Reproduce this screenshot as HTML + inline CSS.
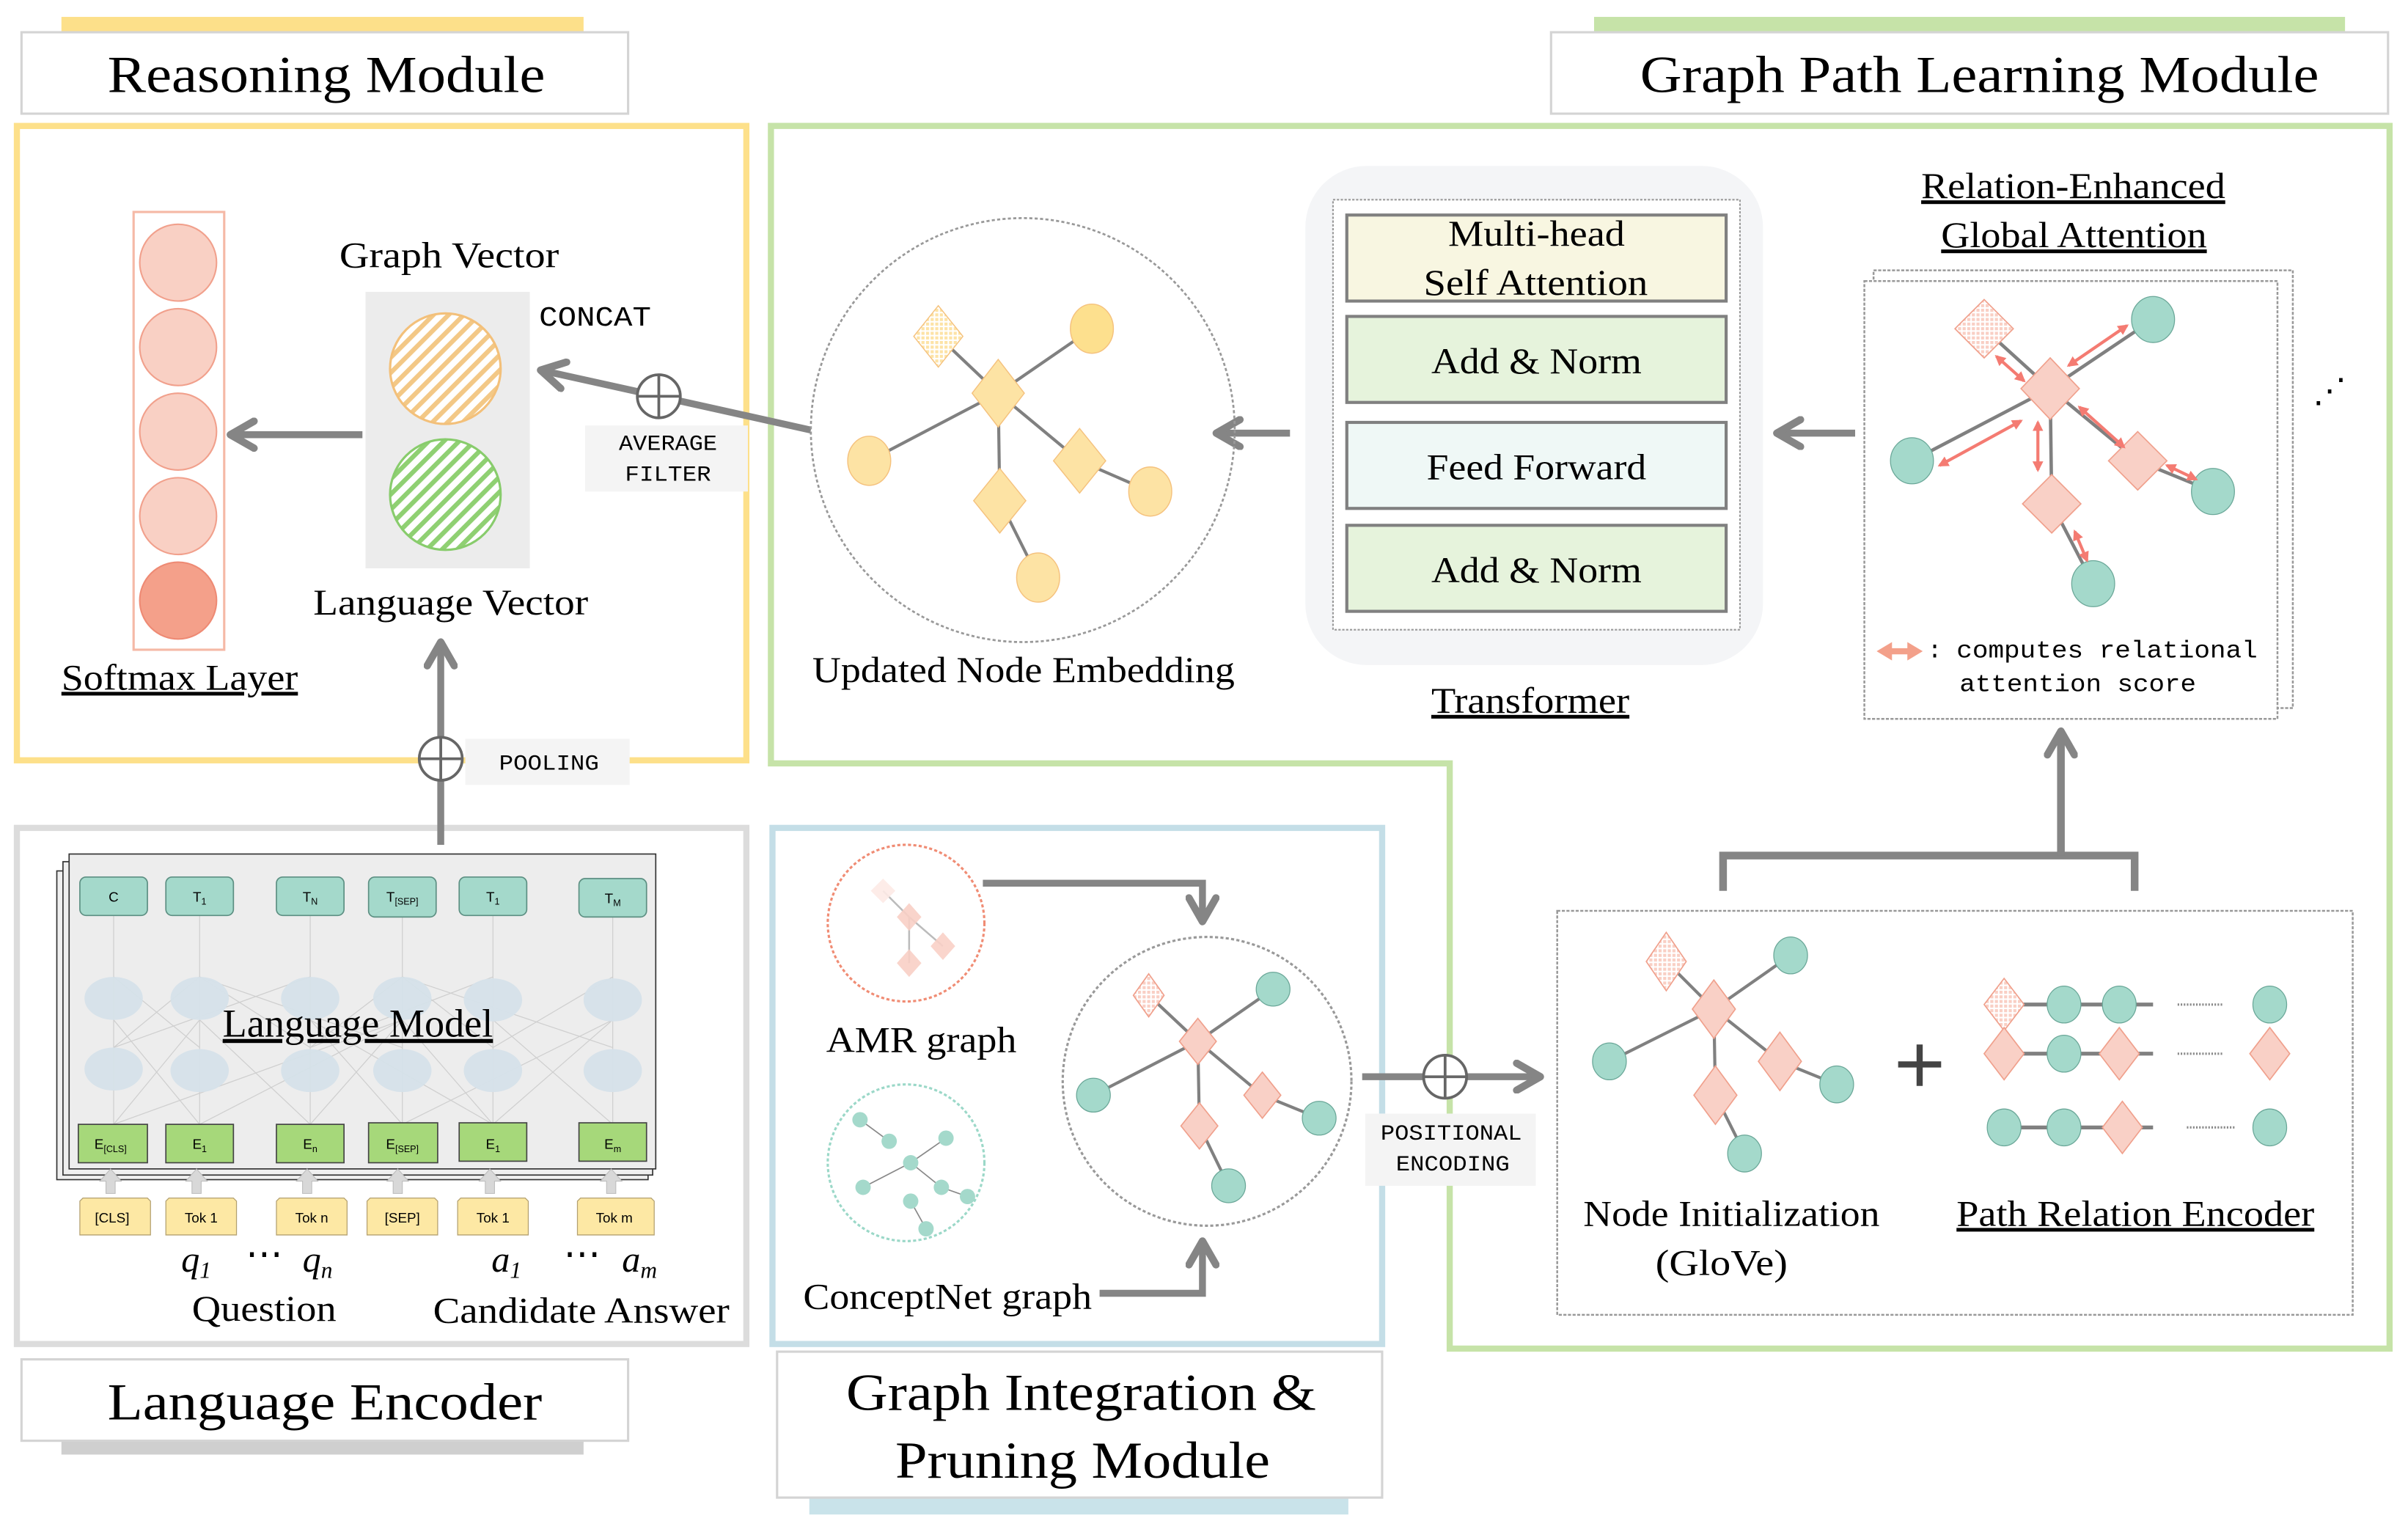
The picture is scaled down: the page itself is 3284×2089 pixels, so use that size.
<!DOCTYPE html>
<html><head><meta charset="utf-8"><style>
html,body{margin:0;padding:0;background:#fff}
svg{display:block}
.s{font-family:"Liberation Serif",serif;fill:#000}
.m{font-family:"Liberation Mono",monospace;fill:#000}
.sa{font-family:"Liberation Sans",sans-serif;fill:#000}
</style></head><body>
<svg width="3284" height="2089" viewBox="0 0 1568 997.4" preserveAspectRatio="none" xmlns="http://www.w3.org/2000/svg">
<defs>
<marker id="ah" viewBox="0 0 10 10" markerWidth="22" markerHeight="22" markerUnits="userSpaceOnUse" refX="8.5" refY="5" orient="auto">
<path d="M1.5,1 L8.5,5 L1.5,9" fill="none" stroke="#858585" stroke-width="2.2" stroke-linecap="round" stroke-linejoin="round"/></marker>
<marker id="ra" viewBox="0 0 10 10" markerWidth="7" markerHeight="7" markerUnits="userSpaceOnUse" refX="8" refY="5" orient="auto-start-reverse">
<path d="M0,0 L10,5 L0,10 z" fill="#f47b72"/></marker>
<pattern id="hy" width="7" height="7" patternUnits="userSpaceOnUse" patternTransform="rotate(45)"><rect width="7" height="7" fill="#fff"/><rect width="3" height="7" fill="#f3c886"/></pattern>
<pattern id="hg" width="7" height="7" patternUnits="userSpaceOnUse" patternTransform="rotate(45)"><rect width="7" height="7" fill="#fff"/><rect width="3" height="7" fill="#8fd072"/></pattern>
<pattern id="cp" width="3" height="3" patternUnits="userSpaceOnUse"><rect width="3" height="3" fill="#fff"/><rect width="2" height="2" fill="#f9cfc4"/></pattern>
<pattern id="cy" width="3" height="3" patternUnits="userSpaceOnUse"><rect width="3" height="3" fill="#fff"/><rect width="2" height="2" fill="#fde3a6"/></pattern>
</defs>

<rect x="40" y="11" width="340" height="12" fill="#fde08a"/>
<rect x="14" y="21" width="395" height="53" fill="#fff" stroke="#d4d4d4" stroke-width="1.5"/>
<text x="70" y="60" class="s" font-size="34" textLength="285" lengthAdjust="spacingAndGlyphs">Reasoning Module</text>

<rect x="1038" y="11" width="489" height="12" fill="#c6e3a8"/>
<rect x="1010" y="21" width="545" height="53" fill="#fff" stroke="#d4d4d4" stroke-width="1.5"/>
<text x="1068" y="60" class="s" font-size="34" textLength="442" lengthAdjust="spacingAndGlyphs">Graph Path Learning Module</text>

<rect x="40" y="936" width="340" height="11" fill="#cfcfcf"/>
<rect x="14" y="885" width="395" height="53" fill="#fff" stroke="#d4d4d4" stroke-width="1.5"/>
<text x="70" y="924" class="s" font-size="34" textLength="283" lengthAdjust="spacingAndGlyphs">Language Encoder</text>

<rect x="527" y="973" width="351" height="13" fill="#c9e3ea"/>
<rect x="506" y="880" width="394" height="95" fill="#fff" stroke="#d4d4d4" stroke-width="1.5"/>
<text x="551" y="918" class="s" font-size="34" textLength="306" lengthAdjust="spacingAndGlyphs">Graph Integration &amp;</text>
<text x="583" y="962" class="s" font-size="34" textLength="244" lengthAdjust="spacingAndGlyphs">Pruning Module</text>

<rect x="11" y="82" width="475" height="413" fill="none" stroke="#fde08a" stroke-width="4"/>
<path d="M502,82 H1556 V878 H944 V497 H502 Z" fill="none" stroke="#c6e3a8" stroke-width="4"/>
<rect x="11" y="539" width="475" height="336" fill="none" stroke="#dcdcdc" stroke-width="4"/>
<rect x="503" y="539" width="397" height="336" fill="none" stroke="#c4dee7" stroke-width="4"/>

<rect x="87" y="138" width="59" height="285" fill="#fff" stroke="#f5b9a6" stroke-width="1.5"/>
<circle cx="116" cy="171" r="25" fill="#f9d0c4" stroke="#f1a08c"/>
<circle cx="116" cy="226" r="25" fill="#f9d0c4" stroke="#f1a08c"/>
<circle cx="116" cy="281" r="25" fill="#f9d0c4" stroke="#f1a08c"/>
<circle cx="116" cy="336" r="25" fill="#f9d0c4" stroke="#f1a08c"/>
<circle cx="116" cy="391" r="25" fill="#f4a08a" stroke="#ee8a74"/>
<line x1="236" y1="283" x2="150" y2="283" stroke="#858585" stroke-width="4.5" marker-end="url(#ah)"/>
<text x="40" y="449" class="s" font-size="24" text-decoration="underline" textLength="154" lengthAdjust="spacingAndGlyphs">Softmax Layer</text>

<rect x="238" y="190" width="107" height="180" fill="#ececec"/>
<circle cx="290" cy="240" r="36" fill="url(#hy)" stroke="#f3c07a" stroke-width="1.5"/>
<circle cx="290" cy="322" r="36" fill="url(#hg)" stroke="#88cc6c" stroke-width="1.5"/>
<text x="221" y="174" class="s" font-size="24" textLength="143" lengthAdjust="spacingAndGlyphs">Graph Vector</text>
<text x="204" y="400" class="s" font-size="24" textLength="179" lengthAdjust="spacingAndGlyphs">Language Vector</text>
<text x="351" y="212" class="m" font-size="18" textLength="73" lengthAdjust="spacingAndGlyphs">CONCAT</text>

<line x1="528" y1="280" x2="429" y2="258" stroke="#858585" stroke-width="4.5"/>
<line x1="429" y1="258" x2="352" y2="241" stroke="#858585" stroke-width="4.5" marker-end="url(#ah)"/>
<circle cx="429" cy="258" r="14" fill="#fff" stroke="#666" stroke-width="1.8"/>
<path d="M415,258 H443 M429,244 V272" stroke="#666" stroke-width="1.8" fill="none"/>
<rect x="381" y="277" width="106" height="43" fill="#f4f4f4"/>
<text x="403" y="293" class="m" font-size="14" textLength="64" lengthAdjust="spacingAndGlyphs">AVERAGE</text>
<text x="407" y="313" class="m" font-size="14" textLength="56" lengthAdjust="spacingAndGlyphs">FILTER</text>

<line x1="287" y1="550" x2="287" y2="418" stroke="#858585" stroke-width="4.5" marker-end="url(#ah)"/>
<rect x="303" y="481" width="107" height="30" fill="#f4f4f4"/>
<circle cx="287" cy="494" r="14" fill="#fff" stroke="#666" stroke-width="1.8"/>
<path d="M273,494 H301 M287,480 V508" stroke="#666" stroke-width="1.8" fill="none"/>
<text x="325" y="501" class="m" font-size="14" textLength="65" lengthAdjust="spacingAndGlyphs">POOLING</text>

<rect x="37" y="567" width="385" height="201" fill="#efefef" stroke="#333" stroke-width="0.8"/>
<rect x="41" y="561" width="384" height="204" fill="#efefef" stroke="#333" stroke-width="0.8"/>
<rect x="45" y="556" width="382" height="205" fill="#ededed" stroke="#333" stroke-width="0.8"/>
<g stroke="#cfcfcf" stroke-width="0.6" fill="none">
<path d="M74,732 L130,664 L202,732 L262,664 L321,732 L399,664 M130,732 L74,664 M130,732 L262,664 M202,732 L130,664 M262,732 L202,664 M262,732 L399,664 M321,732 L202,664 M399,732 L321,664 M74,732 L262,664"/>
<path d="M74,682 L130,636 L202,682 L262,636 L321,682 L399,636 M130,682 L74,636 M202,682 L321,636 M262,682 L130,636 M321,682 L262,636 M399,682 L262,636 M74,682 L202,636"/>
<path d="M74,596 V732 M130,596 V732 M202,596 V732 M262,596 V732 M321,596 V732 M399,596 V732"/>
</g>
<g fill="#d6e2ea" opacity="0.95">
<ellipse cx="74" cy="650" rx="19" ry="14"/><ellipse cx="130" cy="650" rx="19" ry="14"/><ellipse cx="202" cy="650" rx="19" ry="14"/><ellipse cx="262" cy="650" rx="19" ry="14"/><ellipse cx="321" cy="651" rx="19" ry="14"/><ellipse cx="399" cy="651" rx="19" ry="14"/>
<ellipse cx="74" cy="696" rx="19" ry="14"/><ellipse cx="130" cy="697" rx="19" ry="14"/><ellipse cx="202" cy="697" rx="19" ry="14"/><ellipse cx="262" cy="697" rx="19" ry="14"/><ellipse cx="321" cy="697" rx="19" ry="14"/><ellipse cx="399" cy="697" rx="19" ry="14"/>
</g>
<g fill="#a4d9cb" stroke="#5c8f82" stroke-width="0.8">
<rect x="52" y="571" width="44" height="25" rx="4"/><rect x="108" y="571" width="44" height="25" rx="4"/><rect x="180" y="571" width="44" height="25" rx="4"/><rect x="240" y="571" width="44" height="26" rx="4"/><rect x="299" y="571" width="44" height="25" rx="4"/><rect x="377" y="572" width="44" height="25" rx="4"/>
</g>
<g class="sa" font-size="9" text-anchor="middle">
<text x="74" y="587">C</text><text x="130" y="587">T<tspan font-size="6" dy="2">1</tspan></text><text x="202" y="587">T<tspan font-size="6" dy="2">N</tspan></text><text x="262" y="587">T<tspan font-size="6" dy="2">[SEP]</tspan></text><text x="321" y="587">T<tspan font-size="6" dy="2">1</tspan></text><text x="399" y="588">T<tspan font-size="6" dy="2">M</tspan></text>
</g>
<g fill="#a6d87a" stroke="#444" stroke-width="0.8">
<rect x="51" y="732" width="45" height="25"/><rect x="108" y="732" width="44" height="25"/><rect x="180" y="732" width="44" height="25"/><rect x="240" y="731" width="45" height="26"/><rect x="299" y="731" width="44" height="25"/><rect x="377" y="731" width="44" height="25"/>
</g>
<g class="sa" font-size="9" text-anchor="middle">
<text x="72" y="748">E<tspan font-size="6" dy="2">[CLS]</tspan></text><text x="130" y="748">E<tspan font-size="6" dy="2">1</tspan></text><text x="202" y="748">E<tspan font-size="6" dy="2">n</tspan></text><text x="262" y="748">E<tspan font-size="6" dy="2">[SEP]</tspan></text><text x="321" y="748">E<tspan font-size="6" dy="2">1</tspan></text><text x="399" y="748">E<tspan font-size="6" dy="2">m</tspan></text>
</g>
<g fill="#d8d8d8" stroke="#bbb" stroke-width="0.5">
<path d="M69,777 V769 H65 L72,761 L79,769 H75 V777 Z"/><path d="M125,777 V769 H121 L128,761 L135,769 H131 V777 Z"/><path d="M197,777 V769 H193 L200,761 L207,769 H203 V777 Z"/><path d="M256,777 V769 H252 L259,761 L266,769 H262 V777 Z"/><path d="M316,777 V769 H312 L319,761 L326,769 H322 V777 Z"/><path d="M395,777 V769 H391 L398,761 L405,769 H401 V777 Z"/>
</g>
<g fill="#fde8a4" stroke="#b3a070" stroke-width="0.6">
<path d="M52,782 L54,780 H96 L98,782 V804 H52 Z"/><path d="M108,782 L110,780 H152 L154,782 V804 H108 Z"/><path d="M180,782 L182,780 H224 L226,782 V804 H180 Z"/><path d="M239,782 L241,780 H283 L285,782 V804 H239 Z"/><path d="M298,782 L300,780 H342 L344,782 V804 H298 Z"/><path d="M376,782 L378,780 H424 L426,782 V804 H376 Z"/>
</g>
<g class="sa" font-size="9" text-anchor="middle">
<text x="73" y="796">[CLS]</text><text x="131" y="796">Tok 1</text><text x="203" y="796">Tok n</text><text x="262" y="796">[SEP]</text><text x="321" y="796">Tok 1</text><text x="400" y="796">Tok m</text>
</g>
<text x="145" y="675" class="s" font-size="26" text-decoration="underline" textLength="176" lengthAdjust="spacingAndGlyphs">Language Model</text>
<g class="s" font-size="24" font-style="italic">
<text x="118" y="828">q<tspan font-size="15" dy="4">1</tspan></text><text x="160" y="824" font-style="normal">⋯</text><text x="197" y="828">q<tspan font-size="15" dy="4">n</tspan></text>
<text x="320" y="828">a<tspan font-size="15" dy="4">1</tspan></text><text x="367" y="824" font-style="normal">⋯</text><text x="405" y="828">a<tspan font-size="15" dy="4">m</tspan></text>
</g>
<text x="125" y="860" class="s" font-size="24" textLength="94" lengthAdjust="spacingAndGlyphs">Question</text>
<text x="282" y="861" class="s" font-size="24" textLength="193" lengthAdjust="spacingAndGlyphs">Candidate Answer</text>

<circle cx="590" cy="601" r="51" fill="none" stroke="#f08c74" stroke-width="1.5" stroke-dasharray="2 1.5"/>
<g stroke="#bbb" stroke-width="1.2" fill="none"><path d="M575,580 L592,597 L614,616 M592,597 V627"/></g>
<g fill="#f9d0c6" opacity="0.9">
<polygon points="575,572 583,580 575,588 567,580" fill="#fdeae6"/>
<polygon points="592,588 600,597 592,606 584,597"/>
<polygon points="614,607 622,616 614,625 606,616"/>
<polygon points="592,618 600,627 592,636 584,627"/>
</g>
<text x="538" y="685" class="s" font-size="24" textLength="124" lengthAdjust="spacingAndGlyphs">AMR graph</text>

<circle cx="590" cy="757" r="51" fill="none" stroke="#9bd8c8" stroke-width="1.5" stroke-dasharray="2 1.5"/>
<g stroke="#888" stroke-width="0.8" fill="none"><path d="M560,729 L579,743 M593,757 L616,741 M593,757 L562,773 M593,757 L613,773 L630,779 M593,782 L603,800"/></g>
<g fill="#a4d9cb">
<ellipse cx="560" cy="729" rx="5" ry="5"/><ellipse cx="579" cy="743" rx="5" ry="5"/><ellipse cx="616" cy="741" rx="5" ry="5"/><ellipse cx="593" cy="757" rx="5" ry="5"/><ellipse cx="562" cy="773" rx="5" ry="5"/><ellipse cx="613" cy="773" rx="5" ry="5"/><ellipse cx="630" cy="779" rx="5" ry="5"/><ellipse cx="593" cy="782" rx="5" ry="5"/><ellipse cx="603" cy="800" rx="5" ry="5"/>
</g>
<text x="523" y="852" class="s" font-size="24" textLength="188" lengthAdjust="spacingAndGlyphs">ConceptNet graph</text>

<path d="M640,575 H783 V600" fill="none" stroke="#858585" stroke-width="4.5" marker-end="url(#ah)"/>
<path d="M716,842 H783 V808" fill="none" stroke="#858585" stroke-width="4.5" marker-end="url(#ah)"/>
<circle cx="786" cy="704" r="94" fill="none" stroke="#999" stroke-width="1.5" stroke-dasharray="2 1.5"/>
<g stroke="#808080" stroke-width="2" fill="none"><path d="M748,648 L780,678 L829,644 M780,678 L712,713 M780,678 L822,713 L859,728 M780,678 L781,733 L800,772"/></g>
<g fill="#a4d9cb" stroke="#6aa798" stroke-width="0.6">
<ellipse cx="829" cy="644" rx="11" ry="11"/><ellipse cx="712" cy="713" rx="11" ry="11"/><ellipse cx="859" cy="728" rx="11" ry="11"/><ellipse cx="800" cy="772" rx="11" ry="11"/>
</g>
<g stroke="#f0a08c" stroke-width="0.8">
<polygon points="748,634 758,648 748,662 738,648" fill="url(#cp)"/>
<polygon points="780,663 792,678 780,693 768,678" fill="#f9d0c6"/>
<polygon points="822,698 834,713 822,728 810,713" fill="#f9d0c6"/>
<polygon points="781,718 793,733 781,748 769,733" fill="#f9d0c6"/>
</g>

<line x1="887" y1="701" x2="1003" y2="701" stroke="#858585" stroke-width="4.5" marker-end="url(#ah)"/>
<circle cx="941" cy="701" r="14" fill="#fff" stroke="#666" stroke-width="1.8"/>
<path d="M927,701 H955 M941,687 V715" stroke="#666" stroke-width="1.8" fill="none"/>
<rect x="889" y="725" width="111" height="47" fill="#f4f4f4"/>
<text x="899" y="742" class="m" font-size="14" textLength="92" lengthAdjust="spacingAndGlyphs">POSITIONAL</text>
<text x="909" y="762" class="m" font-size="14" textLength="74" lengthAdjust="spacingAndGlyphs">ENCODING</text>

<rect x="1014" y="593" width="518" height="263" fill="none" stroke="#999" stroke-width="1.2" stroke-dasharray="2 1"/>
<g stroke="#808080" stroke-width="2" fill="none"><path d="M1085,626 L1116,657 L1166,622 M1116,657 L1048,691 M1116,657 L1159,691 L1196,706 M1116,657 L1117,713 L1136,751"/></g>
<g fill="#a4d9cb" stroke="#6aa798" stroke-width="0.6">
<ellipse cx="1166" cy="622" rx="11" ry="12"/><ellipse cx="1048" cy="691" rx="11" ry="12"/><ellipse cx="1196" cy="706" rx="11" ry="12"/><ellipse cx="1136" cy="751" rx="11" ry="12"/>
</g>
<g stroke="#f0a08c" stroke-width="0.8">
<polygon points="1085,607 1098,626 1085,645 1072,626" fill="url(#cp)"/>
<polygon points="1116,638 1130,657 1116,676 1102,657" fill="#f9d0c6"/>
<polygon points="1159,672 1173,691 1159,710 1145,691" fill="#f9d0c6"/>
<polygon points="1117,694 1131,713 1117,732 1103,713" fill="#f9d0c6"/>
</g>
<path d="M1236,693 H1264 M1250,680 V707" stroke="#444" stroke-width="4" fill="none"/>
<g stroke="#808080" stroke-width="2.5" fill="none"><path d="M1305,654 H1402 M1305,686 H1402 M1305,734 H1402"/></g>
<g stroke="#888" stroke-width="1.5" stroke-dasharray="1 1" fill="none"><path d="M1418,654 H1447 M1418,686 H1447 M1424,734 H1455"/></g>
<g fill="#a4d9cb" stroke="#6aa798" stroke-width="0.6">
<ellipse cx="1344" cy="654" rx="11" ry="12"/><ellipse cx="1380" cy="654" rx="11" ry="12"/><ellipse cx="1478" cy="654" rx="11" ry="12"/>
<ellipse cx="1344" cy="686" rx="11" ry="12"/>
<ellipse cx="1305" cy="734" rx="11" ry="12"/><ellipse cx="1344" cy="734" rx="11" ry="12"/><ellipse cx="1478" cy="734" rx="11" ry="12"/>
</g>
<g stroke="#f0a08c" stroke-width="0.8" fill="#f9d0c6">
<polygon points="1305,637 1318,654 1305,671 1292,654" fill="url(#cp)"/>
<polygon points="1305,669 1318,686 1305,703 1292,686"/>
<polygon points="1380,669 1393,686 1380,703 1367,686"/>
<polygon points="1478,669 1491,686 1478,703 1465,686"/>
<polygon points="1382,717 1395,734 1382,751 1369,734"/>
</g>
<text x="1031" y="798" class="s" font-size="24" textLength="193" lengthAdjust="spacingAndGlyphs">Node Initialization</text>
<text x="1078" y="830" class="s" font-size="24" textLength="86" lengthAdjust="spacingAndGlyphs">(GloVe)</text>
<text x="1274" y="798" class="s" font-size="24" text-decoration="underline" textLength="233" lengthAdjust="spacingAndGlyphs">Path Relation Encoder</text>

<path d="M1122,580 V557 H1390 V580" fill="none" stroke="#858585" stroke-width="5"/>
<line x1="1342" y1="557" x2="1342" y2="476" stroke="#858585" stroke-width="5" marker-end="url(#ah)"/>

<text x="1251" y="129" class="s" font-size="24" text-decoration="underline" textLength="198" lengthAdjust="spacingAndGlyphs">Relation-Enhanced</text>
<text x="1264" y="161" class="s" font-size="24" text-decoration="underline" textLength="173" lengthAdjust="spacingAndGlyphs">Global Attention</text>
<path d="M1220,182 V176 H1493 V461 H1483" fill="none" stroke="#999" stroke-width="1.2" stroke-dasharray="2 1"/>
<rect x="1214" y="183" width="269" height="285" fill="#fff" stroke="#999" stroke-width="1.2" stroke-dasharray="2 1"/>
<g stroke="#808080" stroke-width="2.2" fill="none"><path d="M1292,214 L1335,253 L1402,208 M1335,253 L1245,300 M1335,253 L1392,300 L1441,320 M1335,253 L1336,328 L1363,380"/></g>
<g fill="#a4d9cb" stroke="#6aa798" stroke-width="0.6">
<ellipse cx="1402" cy="208" rx="14" ry="15"/><ellipse cx="1245" cy="300" rx="14" ry="15"/><ellipse cx="1441" cy="320" rx="14" ry="15"/><ellipse cx="1363" cy="380" rx="14" ry="15"/>
</g>
<g stroke="#f0a08c" stroke-width="0.8" fill="#f9d0c6">
<polygon points="1292,195 1311,214 1292,233 1273,214" fill="url(#cp)"/>
<polygon points="1335,233 1354,253 1335,273 1316,253"/>
<polygon points="1392,281 1411,300 1392,319 1373,300"/>
<polygon points="1336,309 1355,328 1336,347 1317,328"/>
</g>
<g stroke="#f47b72" stroke-width="2" fill="none">
<line x1="1300" y1="232" x2="1318" y2="248" marker-start="url(#ra)" marker-end="url(#ra)"/>
<line x1="1347" y1="238" x2="1385" y2="212" marker-start="url(#ra)" marker-end="url(#ra)"/>
<line x1="1316" y1="274" x2="1263" y2="303" marker-start="url(#ra)" marker-end="url(#ra)"/>
<line x1="1354" y1="265" x2="1383" y2="291" marker-start="url(#ra)" marker-end="url(#ra)"/>
<line x1="1327" y1="275" x2="1327" y2="306" marker-start="url(#ra)" marker-end="url(#ra)"/>
<line x1="1411" y1="303" x2="1430" y2="312" marker-start="url(#ra)" marker-end="url(#ra)"/>
<line x1="1351" y1="346" x2="1359" y2="365" marker-start="url(#ra)" marker-end="url(#ra)"/>
</g>
<text x="1506" y="262" class="s" font-size="22">⋰</text>
<path d="M1222,424 L1232,418 V422 H1242 V418 L1252,424 L1242,430 V426 H1232 V430 Z" fill="#f3a08a"/>
<text x="1255" y="428" class="m" font-size="16">:</text>
<text x="1274" y="428" class="m" font-size="16" textLength="196" lengthAdjust="spacingAndGlyphs">computes relational</text>
<text x="1276" y="450" class="m" font-size="16" textLength="154" lengthAdjust="spacingAndGlyphs">attention score</text>

<line x1="1208" y1="282" x2="1157" y2="282" stroke="#858585" stroke-width="4.5" marker-end="url(#ah)"/>

<rect x="850" y="108" width="298" height="325" rx="40" fill="#f4f5f7"/>
<rect x="868" y="130" width="265" height="280" fill="#fff" stroke="#999" stroke-width="1" stroke-dasharray="1.5 1"/>
<rect x="877" y="140" width="247" height="56" fill="#f8f6e1" stroke="#808080" stroke-width="2"/>
<rect x="877" y="206" width="247" height="56" fill="#e6f3dc" stroke="#808080" stroke-width="2"/>
<rect x="877" y="275" width="247" height="56" fill="#eff8f6" stroke="#808080" stroke-width="2"/>
<rect x="877" y="342" width="247" height="56" fill="#e6f3dc" stroke="#808080" stroke-width="2"/>
<text x="943" y="160" class="s" font-size="24" textLength="115" lengthAdjust="spacingAndGlyphs">Multi-head</text>
<text x="927" y="192" class="s" font-size="24" textLength="146" lengthAdjust="spacingAndGlyphs">Self Attention</text>
<text x="932" y="243" class="s" font-size="24" textLength="137" lengthAdjust="spacingAndGlyphs">Add &amp; Norm</text>
<text x="929" y="312" class="s" font-size="24" textLength="143" lengthAdjust="spacingAndGlyphs">Feed Forward</text>
<text x="932" y="379" class="s" font-size="24" textLength="137" lengthAdjust="spacingAndGlyphs">Add &amp; Norm</text>
<text x="932" y="464" class="s" font-size="24" text-decoration="underline" textLength="129" lengthAdjust="spacingAndGlyphs">Transformer</text>

<line x1="840" y1="282" x2="792" y2="282" stroke="#858585" stroke-width="4.5" marker-end="url(#ah)"/>

<circle cx="666" cy="280" r="138" fill="none" stroke="#999" stroke-width="1.3" stroke-dasharray="2 1.5"/>
<g stroke="#808080" stroke-width="2" fill="none"><path d="M611,219 L650,256 L711,214 M650,256 L566,300 M650,256 L703,300 L749,320 M650,256 L651,326 L676,376"/></g>
<g fill="#fde3a4" stroke="#f5c27e" stroke-width="0.7">
<ellipse cx="711" cy="214" rx="14" ry="16" fill="#fde08e"/><ellipse cx="566" cy="300" rx="14" ry="16"/><ellipse cx="749" cy="320" rx="14" ry="16"/><ellipse cx="676" cy="376" rx="14" ry="16"/>
<polygon points="611,199 627,219 611,239 595,219" fill="url(#cy)"/>
<polygon points="650,234 667,256 650,278 633,256"/>
<polygon points="703,279 720,300 703,321 686,300"/>
<polygon points="651,305 668,326 651,347 634,326"/>
</g>
<text x="529" y="444" class="s" font-size="24" textLength="275" lengthAdjust="spacingAndGlyphs">Updated Node Embedding</text>
</svg>
</body></html>
